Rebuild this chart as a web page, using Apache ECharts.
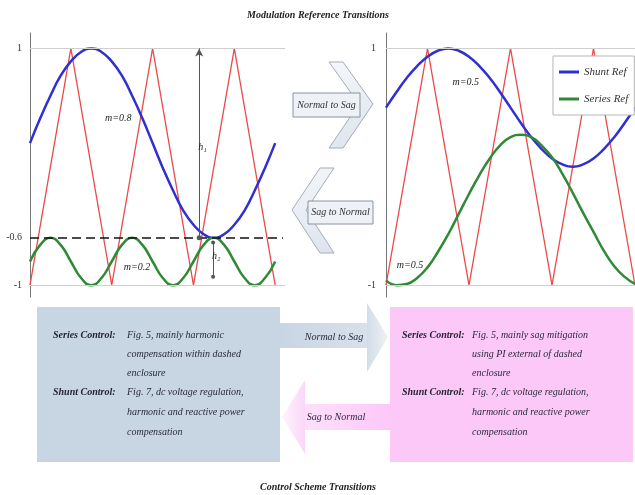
<!DOCTYPE html>
<html>
<head>
<meta charset="utf-8">
<script src="https://cdn.jsdelivr.net/npm/echarts@6/dist/echarts.min.js"></script>
<style>
  html, body { margin: 0; padding: 0; background: #fff; }
  #chart { width: 635px; height: 495px; }
</style>
</head>
<body>
<div id="chart"></div>
<script>
// Sample positions along the time axis (in carrier periods)
const sampleX = [0, 0.125, 0.25, 0.375, 0.5, 0.625, 0.75, 0.875, 1, 1.125, 1.25, 1.375, 1.5,
                 1.625, 1.75, 1.875, 2, 2.125, 2.25, 2.375, 2.5, 2.625, 2.75, 2.875, 3];

// Triangular carrier vertices
const carrierX = [0, 0.5, 1, 1.5, 2, 2.5, 3];
const carrierY = [-1, 1, -1, 1, -1, 1, -1];

// Normal operation: shunt reference (m=0.8) and series reference (m=0.2)
const normalShunt = [0.20, 0.41, 0.60, 0.77, 0.89, 0.97, 1.00, 0.97, 0.89, 0.77, 0.60, 0.41, 0.20,
                     -0.01, -0.20, -0.37, -0.49, -0.57, -0.60, -0.57, -0.49, -0.37, -0.20, -0.01, 0.20];
const normalSeries = [-0.80, -0.66, -0.60, -0.66, -0.80, -0.94, -1.00, -0.94, -0.80, -0.66, -0.60, -0.66, -0.80,
                      -0.94, -1.00, -0.94, -0.80, -0.66, -0.60, -0.66, -0.80, -0.94, -1.00, -0.94, -0.80];

// Sag operation: shunt reference (m=0.5) and series reference (m=0.5)
const sagShunt = [0.50, 0.63, 0.75, 0.85, 0.93, 0.98, 1.00, 0.98, 0.93, 0.85, 0.75, 0.63, 0.50,
                  0.37, 0.25, 0.15, 0.07, 0.02, 0.00, 0.02, 0.07, 0.15, 0.25, 0.37, 0.50];
const sagSeries = [-0.96, -1.00, -0.99, -0.94, -0.85, -0.72, -0.57, -0.40, -0.23, -0.07, 0.07, 0.18, 0.25,
                   0.27, 0.25, 0.18, 0.08, -0.06, -0.22, -0.39, -0.55, -0.71, -0.84, -0.93, -0.99];

// Tick labels
const leftTickValues = [-1, -0.6, 1];
const leftTickLabels = ['-1', '-0.6', '1'];
const rightTickValues = [-1, 1];
const rightTickLabels = ['-1', '1'];

// Annotation values
const dcLevel = -0.6;
const h1X = 2.07, h2X = 2.24;

// Control scheme descriptions
const leftSeriesLines = ['Fig. 5, mainly harmonic', 'compensation within dashed', 'enclosure'];
const leftShuntLines = ['Fig. 7, dc voltage regulation,', 'harmonic and reactive power', 'compensation'];
const rightSeriesLines = ['Fig. 5, mainly sag mitigation', 'using PI external of dashed', 'enclosure'];
const rightShuntLines = ['Fig. 7, dc voltage regulation,', 'harmonic and reactive power', 'compensation'];

const zip = (xs, ys) => xs.map((x, i) => [x, ys[i]]);
const SERIF = '"Liberation Serif", "DejaVu Serif", serif';
const BLUE = '#2f2fd2', GREEN = '#2f8a36', RED = '#ea4a4a';

function tickFormatter(values, labels) {
  return function (v) {
    for (let i = 0; i < values.length; i++) {
      if (Math.abs(v - values[i]) < 1e-6) return labels[i];
    }
    return '';
  };
}

function yAxisFor(gridIndex, values, labels, margin) {
  return {
    type: 'value', gridIndex: gridIndex, min: -1.1, max: 1.13, interval: 0.1,
    axisLine: { show: true, onZero: false, lineStyle: { color: '#777', width: 1 } },
    axisTick: { show: false },
    splitLine: { show: false },
    axisLabel: {
      formatter: tickFormatter(values, labels), margin: margin,
      fontFamily: SERIF, fontSize: 10, color: '#333', showMaxLabel: false
    }
  };
}

const gridLineStyle = { color: '#cfcfcf', width: 1, type: 'solid' };
const annoLabel = (text) => ({
  show: true, position: 'inside', formatter: text,
  fontFamily: SERIF, fontStyle: 'italic', fontSize: 10, color: '#222'
});
const annoPoint = (coord, text) => ({
  coord: coord, symbol: 'rect', symbolSize: 1,
  itemStyle: { color: 'rgba(0,0,0,0)' }, label: annoLabel(text)
});

// Diagram text lines inside the control scheme boxes
const textRows = [335, 354, 373, 392, 412, 432];
const diagramText = [];
function addBlock(headX, descX, seriesLines, shuntLines) {
  diagramText.push({ type: 'text', style: { text: 'Series Control:', x: headX, y: textRows[0],
    font: 'italic bold 10px ' + SERIF, fill: '#252535', verticalAlign: 'middle' } });
  diagramText.push({ type: 'text', style: { text: 'Shunt Control:', x: headX, y: textRows[3],
    font: 'italic bold 10px ' + SERIF, fill: '#252535', verticalAlign: 'middle' } });
  seriesLines.forEach((t, i) => diagramText.push({ type: 'text', style: { text: t, x: descX, y: textRows[i],
    font: 'italic 10px ' + SERIF, fill: '#2a2a3c', verticalAlign: 'middle' } }));
  shuntLines.forEach((t, i) => diagramText.push({ type: 'text', style: { text: t, x: descX, y: textRows[3 + i],
    font: 'italic 10px ' + SERIF, fill: '#2a2a3c', verticalAlign: 'middle' } }));
}
addBlock(53, 127, leftSeriesLines, leftShuntLines);
addBlock(402, 472, rightSeriesLines, rightShuntLines);

const chevronFill = { type: 'linear', x: 0, y: 0, x2: 1, y2: 1,
  colorStops: [{ offset: 0, color: '#f5f7fb' }, { offset: 1, color: '#dde3ec' }] };

const graphics = [
  // titles
  { type: 'text', style: { text: 'Modulation Reference Transitions', x: 318, y: 15,
    font: 'italic bold 10px ' + SERIF, fill: '#222', align: 'center', verticalAlign: 'middle' } },
  { type: 'text', style: { text: 'Control Scheme Transitions', x: 318, y: 487,
    font: 'italic bold 10px ' + SERIF, fill: '#222', align: 'center', verticalAlign: 'middle' } },

  // upper transition arrows
  { type: 'polygon', shape: { points: [[343, 62], [373, 104], [343, 148], [329, 148], [359, 104], [329, 62]] },
    style: { fill: chevronFill, stroke: '#a3abba', lineWidth: 1 } },
  { type: 'rect', shape: { x: 293, y: 93, width: 67, height: 24 },
    style: { fill: '#eef1f6', stroke: '#8a92a2', lineWidth: 1 } },
  { type: 'text', style: { text: 'Normal to Sag', x: 326.5, y: 105, font: 'italic 10px ' + SERIF,
    fill: '#333', align: 'center', verticalAlign: 'middle' } },

  { type: 'polygon', shape: { points: [[320, 168], [292, 210], [320, 253], [334, 253], [306, 210], [334, 168]] },
    style: { fill: chevronFill, stroke: '#a3abba', lineWidth: 1 } },
  { type: 'rect', shape: { x: 308, y: 201, width: 65, height: 23 },
    style: { fill: '#eef1f6', stroke: '#8a92a2', lineWidth: 1 } },
  { type: 'text', style: { text: 'Sag to Normal', x: 340.5, y: 212.5, font: 'italic 10px ' + SERIF,
    fill: '#333', align: 'center', verticalAlign: 'middle' } },

  // control scheme boxes
  { type: 'rect', shape: { x: 37, y: 307, width: 243, height: 155 }, style: { fill: '#c8d5e3' } },
  { type: 'rect', shape: { x: 390, y: 307, width: 243, height: 155 }, style: { fill: '#fcc8f8' } },

  // lower transition arrows
  { type: 'rect', shape: { x: 280, y: 323, width: 88, height: 25 },
    style: { fill: { type: 'linear', x: 0, y: 0, x2: 1, y2: 0,
      colorStops: [{ offset: 0, color: '#c8d5e3' }, { offset: 1, color: '#d7e1ea' }] } } },
  { type: 'polygon', shape: { points: [[367, 303], [388, 337], [367, 372]] },
    style: { fill: { type: 'linear', x: 0, y: 0, x2: 1, y2: 0,
      colorStops: [{ offset: 0, color: '#d2dde7' }, { offset: 1, color: '#eef2f5' }] } } },
  { type: 'text', style: { text: 'Normal to Sag', x: 334, y: 337, font: 'italic 10px ' + SERIF,
    fill: '#2a2a3c', align: 'center', verticalAlign: 'middle' } },

  { type: 'rect', shape: { x: 304, y: 404, width: 86, height: 26 },
    style: { fill: { type: 'linear', x: 0, y: 0, x2: 1, y2: 0,
      colorStops: [{ offset: 0, color: '#fde0fb' }, { offset: 1, color: '#fcc8f8' }] } } },
  { type: 'polygon', shape: { points: [[305, 380], [282, 417], [305, 454]] },
    style: { fill: { type: 'linear', x: 1, y: 0, x2: 0, y2: 0,
      colorStops: [{ offset: 0, color: '#fbd6f8' }, { offset: 1, color: '#fff4fe' }] } } },
  { type: 'text', style: { text: 'Sag to Normal', x: 336, y: 417, font: 'italic 10px ' + SERIF,
    fill: '#2a2a3c', align: 'center', verticalAlign: 'middle' } }
].concat(diagramText);

const option = {
  animation: false,
  backgroundColor: '#fff',
  grid: [
    { left: 30, top: 33, width: 255, height: 264 },
    { left: 386, top: 33, width: 252, height: 264 }
  ],
  xAxis: [
    { type: 'value', gridIndex: 0, min: 0, max: 3.12, show: false },
    { type: 'value', gridIndex: 1, min: 0, max: 3, show: false }
  ],
  yAxis: [
    yAxisFor(0, leftTickValues, leftTickLabels, 8),
    yAxisFor(1, rightTickValues, rightTickLabels, 10)
  ],
  legend: {
    data: [{ name: 'Shunt Ref', icon: 'rect' }, { name: 'Series Ref', icon: 'rect' }],
    orient: 'vertical', left: 553, top: 56,
    backgroundColor: '#fff', borderColor: '#b5b5b5', borderWidth: 1,
    padding: [9, 6, 9, 6], itemGap: 13, itemWidth: 20, itemHeight: 3,
    textStyle: { fontFamily: SERIF, fontStyle: 'italic', fontSize: 11, color: '#333', lineHeight: 14 }
  },
  series: [
    // ---- normal operation panel ----
    { name: 'Carrier', type: 'line', xAxisIndex: 0, yAxisIndex: 0, data: zip(carrierX, carrierY),
      symbol: 'none', z: 2, lineStyle: { color: RED, width: 1.3 },
      markLine: { silent: true, symbol: 'none', label: { show: false }, lineStyle: gridLineStyle,
        data: [{ yAxis: 1 }, { yAxis: -1 }] } },
    { name: 'Shunt Ref', type: 'line', xAxisIndex: 0, yAxisIndex: 0, data: zip(sampleX, normalShunt),
      symbol: 'none', smooth: true, z: 3, color: BLUE, lineStyle: { color: BLUE, width: 2.5 },
      markPoint: { silent: true, data: [annoPoint([1.08, 0.41], 'm=0.8')] } },
    { name: 'Series Ref', type: 'line', xAxisIndex: 0, yAxisIndex: 0, data: zip(sampleX, normalSeries),
      symbol: 'none', smooth: true, z: 4, color: GREEN, lineStyle: { color: GREEN, width: 2.5 },
      markPoint: { silent: true, data: [
        annoPoint([1.31, -0.85], 'm=0.2'),
        annoPoint([h1X + 0.04, 0.16], 'h₁'),
        annoPoint([h2X + 0.04, -0.76], 'h₂')
      ] },
      markLine: { silent: true, label: { show: false },
        data: [
          [{ xAxis: 0, yAxis: dcLevel, symbol: 'none', lineStyle: { color: '#111', width: 1.6, type: [9, 5] } },
           { x: 283, yAxis: dcLevel, symbol: 'none' }],
          [{ coord: [h1X, 1], symbol: 'arrow', symbolSize: [6, 8], lineStyle: { color: '#555', width: 1, type: 'solid' } },
           { coord: [h1X, dcLevel], symbol: 'circle', symbolSize: 5 }],
          [{ coord: [h2X, -0.64], symbol: 'circle', symbolSize: 4, lineStyle: { color: '#555', width: 1, type: 'solid' } },
           { coord: [h2X, -0.93], symbol: 'circle', symbolSize: 4 }]
        ],
        itemStyle: { color: '#222' } } },

    // ---- sag operation panel ----
    { name: 'Carrier', type: 'line', xAxisIndex: 1, yAxisIndex: 1, data: zip(carrierX, carrierY),
      symbol: 'none', z: 2, lineStyle: { color: RED, width: 1.3 },
      markLine: { silent: true, symbol: 'none', label: { show: false }, lineStyle: gridLineStyle,
        data: [{ yAxis: 1 }, { yAxis: -1 }] } },
    { name: 'Shunt Ref', type: 'line', xAxisIndex: 1, yAxisIndex: 1, data: zip(sampleX, sagShunt),
      symbol: 'none', smooth: true, z: 3, color: BLUE, lineStyle: { color: BLUE, width: 2.5 },
      markPoint: { silent: true, data: [annoPoint([0.96, 0.71], 'm=0.5')] } },
    { name: 'Series Ref', type: 'line', xAxisIndex: 1, yAxisIndex: 1, data: zip(sampleX, sagSeries),
      symbol: 'none', smooth: true, z: 4, color: GREEN, lineStyle: { color: GREEN, width: 2.5 },
      markPoint: { silent: true, data: [annoPoint([0.29, -0.83], 'm=0.5')] } }
  ],
  graphic: graphics
};

const chart = echarts.init(document.getElementById('chart'), null, { renderer: 'canvas' });
chart.setOption(option);
</script>
</body>
</html>
